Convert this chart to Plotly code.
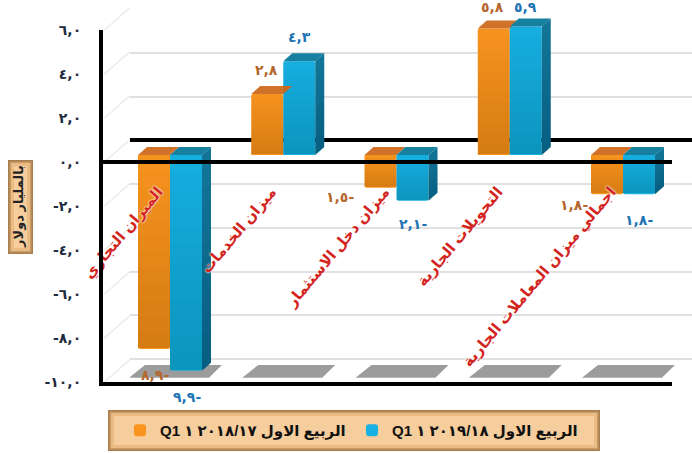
import plotly.graph_objects as go

# Balance of payments items, first quarter, in billions of dollars
categories = ["الميزان التجاري", "ميزان الخدمات", "ميزان دخل الاستثمار",
              "التحويلات الجارية", "اجمالي ميزان المعاملات الجارية"]
q1_2017_18 = [-8.9, 2.8, -1.5, 5.8, -1.8]
q1_2018_19 = [-9.9, 4.3, -2.1, 5.9, -1.8]
labels_2017_18 = ["٨,٩-", "٢,٨", "١,٥-", "٥,٨", "١,٨-"]
labels_2018_19 = ["٩,٩-", "٤,٣", "٢,١-", "٥,٩", "١,٨-"]
value_ticks = [-10, -8, -6, -4, -2, 0, 2, 4, 6]
value_tick_labels = ["-١٠,٠", "-٨,٠", "-٦,٠", "-٤,٠", "-٢,٠", "٠,٠", "٢,٠", "٤,٠", "٦,٠"]
name_2017_18 = "\u202bالربيع الاول ٢٠١٨/١٧ ١ Q1\u202c"
name_2018_19 = "\u202bالربيع الاول ٢٠١٩/١٨ ١ Q1\u202c"
axis_title = "بالمليار دولار"

W, H = 692, 453
FONT = "DejaVu Sans"
ARABIC_FONT = "Liberation Sans, DejaVu Sans"


def px_x(x):
    return x / W


def px_y(y):
    return 1 - y / H


# Pixel geometry of the pseudo-3D box
CAT_STEP = 113.25
CAT0 = 170.0
BAR_W = 32 / CAT_STEP
BAR_SCALE = 21.8
BAR_ZERO = 155.0
DEPTH_X = 9 / CAT_STEP
DEPTH_Y = 8 / BAR_SCALE
WALL_SCALE = 21.875
WALL_TOP = 9.0
WALL_BOTTOM = -11.5


def cat_range(left, right):
    return [(left - CAT0) / CAT_STEP, (right - CAT0) / CAT_STEP]


xs = list(range(len(categories)))
left_x = [i - BAR_W / 2 for i in xs]
right_x = [i + BAR_W / 2 for i in xs]


def top_faces(centres, values):
    px, py = [], []
    for c, v in zip(centres, values):
        t = max(v, 0)
        px += [c - BAR_W / 2, c - BAR_W / 2 + DEPTH_X, c + BAR_W / 2 + DEPTH_X, c + BAR_W / 2, None]
        py += [t, t + DEPTH_Y, t + DEPTH_Y, t, None]
    return px, py


def side_faces(centres, values):
    px, py = [], []
    for c, v in zip(centres, values):
        t, b = max(v, 0), min(v, 0)
        e = c + BAR_W / 2
        px += [e, e + DEPTH_X, e + DEPTH_X, e, None]
        py += [t, t + DEPTH_Y, b + DEPTH_Y, b, None]
    return px, py


def shade_band(fraction):
    """Lower part of every front and side face, from the given fraction of its height down."""
    px, py = [], []
    for centres, values, with_side in ((left_x, q1_2017_18, False), (right_x, q1_2018_19, True)):
        for c, v in zip(centres, values):
            t, b = max(v, 0), min(v, 0)
            s = t - (t - b) * fraction
            px += [c - BAR_W / 2, c + BAR_W / 2, c + BAR_W / 2, c - BAR_W / 2, None]
            py += [s, s, b + 0.04, b + 0.04, None]
            if with_side:
                e = c + BAR_W / 2
                px += [e, e + DEPTH_X, e + DEPTH_X, e, None]
                py += [s, s + DEPTH_Y, b + DEPTH_Y, b, None]
    return px, py


def floor_plates():
    px, py = [], []
    for i in xs:
        px += [i - 0.362, i - 0.221, i + 0.459, i + 0.344, None]
        py += [-10.86, -10.27, -10.27, -10.86, None]
    return px, py


fig = go.Figure()

# Grey plates on the floor belong to the back wall, behind the bars
fx, fy = floor_plates()
fig.add_trace(go.Scatter(x=fx, y=fy, xaxis="x", yaxis="y", fill="toself", mode="none",
                         fillcolor="#9C9C9C", showlegend=False, hoverinfo="skip"))

# Bars sit in front of the back wall, so they use their own shifted axes
fig.add_trace(go.Bar(x=left_x, y=q1_2017_18, xaxis="x2", yaxis="y2", width=BAR_W,
                     name=name_2017_18, marker=dict(color="#F9941F", line=dict(width=0))))
fig.add_trace(go.Bar(x=right_x, y=q1_2018_19, xaxis="x2", yaxis="y2", width=BAR_W,
                     name=name_2018_19, marker=dict(color="#17B0E2", line=dict(width=0))))
ox, oy = top_faces(left_x, q1_2017_18)
fig.add_trace(go.Scatter(x=ox, y=oy, xaxis="x2", yaxis="y2", fill="toself", mode="none",
                         fillcolor="#D0722A", showlegend=False, hoverinfo="skip"))
bx, by = top_faces(right_x, q1_2018_19)
fig.add_trace(go.Scatter(x=bx, y=by, xaxis="x2", yaxis="y2", fill="toself", mode="none",
                         fillcolor="#15809F", showlegend=False, hoverinfo="skip"))
sx, sy = side_faces(right_x, q1_2018_19)
fig.add_trace(go.Scatter(x=sx, y=sy, xaxis="x2", yaxis="y2", fill="toself", mode="none",
                         fillcolor="#13779A", showlegend=False, hoverinfo="skip"))

# Overlapping translucent bands darken each face towards its lower end
SHADE_STEPS = 12
for k in range(SHADE_STEPS):
    hx, hy = shade_band(k / SHADE_STEPS)
    fig.add_trace(go.Scatter(x=hx, y=hy, xaxis="x2", yaxis="y2", fill="toself", mode="none",
                             fillcolor="rgba(0,20,40,0.01)", showlegend=False, hoverinfo="skip"))

# Front axes draw over the bars
fig.add_trace(go.Scatter(x=[None], y=[None], xaxis="x3", yaxis="y3", showlegend=False, hoverinfo="skip"))

shapes = []

# Side wall and floor returns linking the front axis to the back wall
for t in value_ticks:
    y_front = 162.5 - t * 22
    shapes.append(dict(type="line", xref="paper", yref="paper", layer="below",
                       x0=px_x(104), y0=px_y(y_front), x1=px_x(130), y1=px_y(y_front - 23),
                       line=dict(color="#EBEBEB", width=1.5)))


def tan_panel(x0, y0, x1, y1):
    bands = [(0, "#A87E4E"), (1.5, "#C89A66"), (3, "#EBBB84"), (6, "#F6CD9C")]
    for inset, colour in bands:
        shapes.append(dict(type="rect", xref="paper", yref="paper", layer="below",
                           x0=px_x(x0 + inset), x1=px_x(x1 - inset),
                           y0=px_y(y0 + inset), y1=px_y(y1 - inset),
                           fillcolor=colour, line=dict(width=0)))


tan_panel(108, 410, 600, 451)
tan_panel(8, 160, 33, 254)

annotations = []
offsets_a = [(1, -26), (-1, 24), (-41, -9), (-1, 22), (-33, -11)]
offsets_b = [(1, -26), (0, 24), (0, -23), (0, 19), (0, -26)]
for i in xs:
    annotations.append(dict(x=left_x[i], y=q1_2017_18[i], xref="x2", yref="y2",
                            text=labels_2017_18[i], showarrow=False,
                            xshift=offsets_a[i][0], yshift=offsets_a[i][1],
                            font=dict(family=FONT, size=14, color="#B5662C", weight="bold")))
    annotations.append(dict(x=right_x[i], y=q1_2018_19[i], xref="x2", yref="y2",
                            text=labels_2018_19[i], showarrow=False,
                            xshift=offsets_b[i][0], yshift=offsets_b[i][1],
                            font=dict(family=FONT, size=14, color="#1E74B4", weight="bold")))

fig.update_layout(
    width=W, height=H, autosize=False,
    margin=dict(l=0, r=0, t=0, b=0, autoexpand=False),
    paper_bgcolor="white", plot_bgcolor="rgba(0,0,0,0)",
    barmode="overlay", barcornerradius=2,
    shapes=shapes, annotations=annotations,
    # Back wall
    xaxis=dict(domain=[px_x(130), 1], range=cat_range(130, 692), visible=False, anchor="y"),
    yaxis=dict(domain=[px_y(WALL_TOP + (6 - WALL_BOTTOM) * WALL_SCALE), px_y(WALL_TOP)],
               range=[WALL_BOTTOM, 6], anchor="x", tickmode="array", tickvals=value_ticks,
               ticktext=value_tick_labels, showticklabels=False, ticks="", showline=False,
               showgrid=True, gridcolor="#E0E0E0", gridwidth=2, layer="below traces",
               zeroline=True, zerolinecolor="black", zerolinewidth=4),
    # Bars, with the category names tilted along a hidden baseline
    xaxis2=dict(domain=[px_x(103), px_x(672)], range=cat_range(103, 672), anchor="free",
                position=px_y(179), tickvals=xs, ticktext=categories, tickangle=-50,
                ticklabelshift=-12,
                showgrid=False, zeroline=False, showline=False, ticks="",
                tickfont=dict(family=ARABIC_FONT, size=15, color="#D32420", weight="bold",
                              shadow="0 0 2px white, 0 0 2px white")),
    yaxis2=dict(domain=[px_y(BAR_ZERO + 11 * BAR_SCALE), px_y(BAR_ZERO - 7 * BAR_SCALE)],
                range=[-11, 7], anchor="x2", visible=False),
    # Front frame with the value scale
    xaxis3=dict(domain=[px_x(103), px_x(672)], range=cat_range(103, 672), anchor="y3",
                showticklabels=False, ticks="", showgrid=False, zeroline=False,
                showline=True, linecolor="black", linewidth=4),
    yaxis3=dict(domain=[px_y(382), px_y(30)], range=[-10, 6], anchor="x3",
                tickvals=value_ticks, ticktext=value_tick_labels, ticks="",
                ticklabelstandoff=15, showgrid=False,
                showline=True, linecolor="black", linewidth=4,
                zeroline=True, zerolinecolor="black", zerolinewidth=4,
                tickfont=dict(family=FONT, size=14, color="#1C2B3C", weight="bold"),
                title=dict(text=axis_title, standoff=19,
                           font=dict(family=ARABIC_FONT, size=13, color="#222222", weight="bold"))),
    legend=dict(orientation="h", x=px_x(120), y=px_y(414), xanchor="left", yanchor="top",
                bgcolor="rgba(0,0,0,0)", borderwidth=0, entrywidth=187, entrywidthmode="pixels",
                traceorder="normal",
                font=dict(family=ARABIC_FONT, size=15, color="#111111", weight="bold")),
)

fig.write_html("out.html")
